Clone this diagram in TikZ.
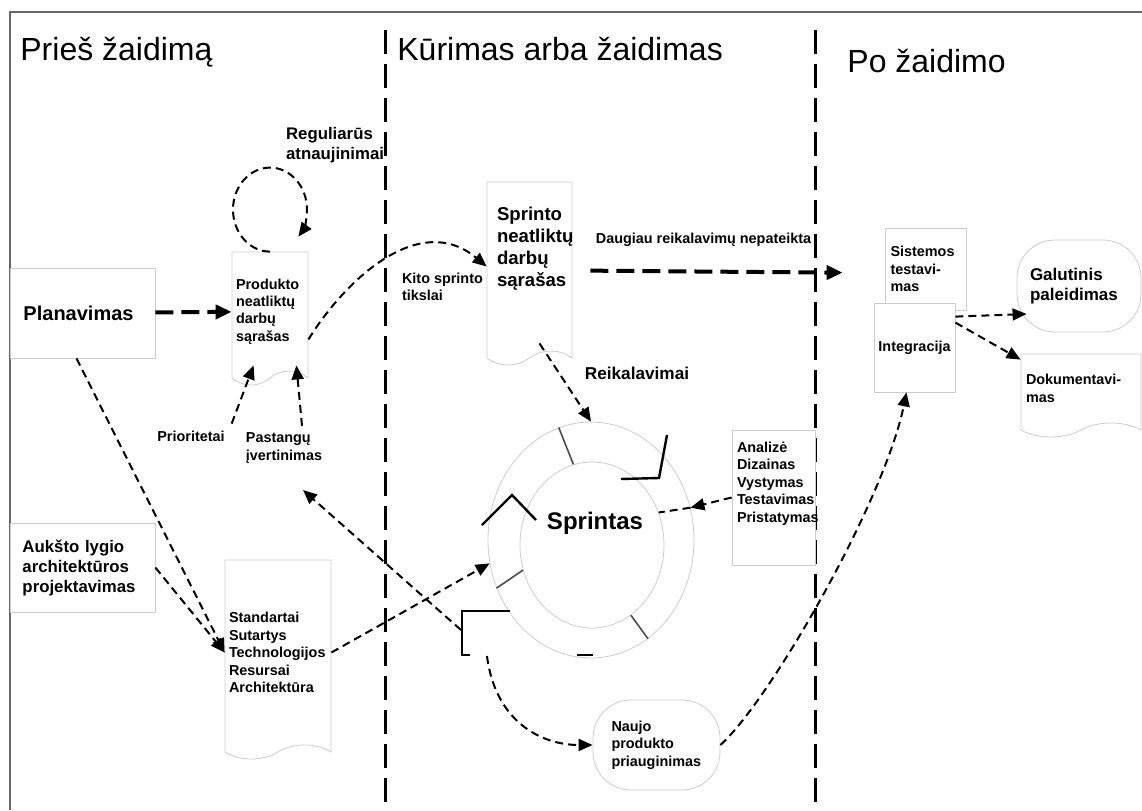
\documentclass[tikz,border=0pt]{standalone}
\usepackage{fontspec}
\setmainfont{Liberation Sans}
\usetikzlibrary{positioning,calc,arrows.meta,shapes.geometric,shapes.symbols}
\definecolor{boxgray}{gray}{0.8}
\definecolor{spokegray}{gray}{0.3}
\tikzset{
  box/.style={draw=boxgray,fill=white,rectangle,inner sep=2pt},
  doc/.style={box,tape,tape bend top=none,tape bend height=7pt},
  blob/.style={box,rounded corners=19pt},
  txt/.style={font=\fontsize{7.2}{8.7}\selectfont\bfseries,align=left},
  flow/.style={-{Triangle[length=7pt,width=6pt]},line width=1pt,dash pattern=on 4pt off 2.5pt},
  bigflow/.style={-{Triangle[length=8pt,width=7pt]},line width=2pt,dash pattern=on 9pt off 4pt},
  divider/.style={line width=1.5pt,dash pattern=on 12pt off 5pt},
  spoke/.style={draw=spokegray,line width=0.8pt},
  chev/.style={line width=1.2pt},
  title/.style={font=\fontsize{16}{19}\selectfont,inner sep=0pt,anchor=base west},
}
\begin{document}
\begin{tikzpicture}[x=0.5pt,y=-0.5pt]
\useasboundingbox (0,0) rectangle (1142,810);
\draw[gray!80!black,line width=0.6pt] (10,810) -- (10,12) -- (1142,12);

% phases
\draw[divider] (385,30) -- (385,810);
\draw[divider] (815,30) -- (815,810);
\node[title] (pre) at (20,60) {Prieš žaidimą};
\node[title] (game) at (397,60) {Kūrimas arba žaidimas};
\node[title] (post) at (847,72) {Po žaidimo};

% pregame
\node[box,minimum width=72.5pt,minimum height=45pt,text width=59pt,font=\fontsize{10}{12}\selectfont\bfseries] (plan) at (82.5,313) {Planavimas};
\node[box,txt,minimum width=72.5pt,minimum height=44.5pt,text width=60pt,font=\fontsize{8.4}{10}\selectfont\bfseries] (arch) at (82.5,567.5) {Aukšto lygio\\architektūros\\projektavimas};
\node[doc,txt,minimum width=38pt,minimum height=66.5pt,text width=34pt] (prod) at (270,311.5) {Produkto\\neatliktų\\darbų\\sąrašas};
\node[doc,txt,minimum width=52pt,minimum height=99.5pt,text width=49pt] (std) at (278,652.5) {Standartai\\Sutartys\\Technologijos\\Resursai\\Architektūra};
\node[txt,font=\fontsize{8.4}{10.3}\selectfont\bfseries,anchor=west] (upd) at (279,145) {Reguliarūs\\atnaujinimai};
\node[txt] (prio) at (191,436) {Prioritetai};
\node[txt] (effort) at (284,448) {Pastangų\\įvertinimas};

% game
\node[doc,minimum width=42.5pt,minimum height=91.5pt] (spr) at (529.5,266.5) {};
\node[txt,font=\fontsize{9.3}{11}\selectfont\bfseries,inner sep=0pt,below right=12.5pt and 5pt of spr.north west] (sprtxt) {Sprinto\\neatliktų\\darbų\\sąrašas};
\node[txt,anchor=west] (goals) at (395,287) {Kito sprinto\\tikslai};
\node[txt,font=\fontsize{8.6}{10}\selectfont\bfseries] (req) at (637,373) {Reikalavimai};
\node[box,minimum width=41.5pt,minimum height=67.5pt] (anal) at (773.5,497.5) {};
\node[txt,inner sep=0pt,below right=6pt and 2.5pt of anal.north west] (analtxt) {Analizė\\Dizainas\\Vystymas\\Testavimas\\Pristatymas};
\node[ellipse,draw=boxgray,minimum width=103pt,minimum height=118pt] (ring) at (591,540) {};
\node[ellipse,draw=boxgray,minimum width=72pt,minimum height=83pt] (core) at (592,545) {};
\node[font=\fontsize{12}{14}\selectfont\bfseries] (sprint) at (595,523) {Sprintas};
\node[blob,txt,minimum width=63.5pt,minimum height=45pt,text width=45pt] (naujo) at (656.5,745) {Naujo\\produkto\\priauginimas};

% sprint wheel
\draw[spoke] (core.103) -- (ring.106);
\draw[spoke] (core.200) -- (ring.207);
\draw[spoke] (core.299) -- (ring.300);
\draw[chev] (667,435) -- (659,478) -- (621,479);
\draw[chev] (482,525) -- (512,495) -- (536,520);
\draw[chev] (510,611) -- (462,611) -- (462,655) -- (470,655);
\draw[chev] (577,655) -- (593,655);
\coordinate (swing) at (461,630);
\coordinate (esttip) at (303,490);
\coordinate (drop) at (487,656);

% postgame
\node[box,txt,minimum width=40.5pt,minimum height=41pt,text width=35pt] (sys) at (925.5,269) {Sistemos\\testavi-\\mas};
\node[box,txt,minimum width=40.5pt,minimum height=44.5pt] (integ) at (914.5,347.5) {Integracija};
\node[blob,txt,minimum width=62pt,minimum height=46pt,text width=49pt,font=\fontsize{8.5}{10}\selectfont\bfseries] (gal) at (1079,286) {Galutinis\\paleidimas};
\node[doc,txt,minimum width=60pt,minimum height=41.5pt,text width=55pt] (dok) at (1081,388.5) {Dokumentavi-\\mas};

% flows
\draw[bigflow] (plan) -- (prod);
\draw[flow] (prod.north) arc[start angle=90,end angle=400,x radius=37,y radius=42];
\draw[flow] ($(prod.east)+(0,28)$) .. controls +(37,-60) and +(-67,-56) .. (spr.west);
\draw[bigflow,shorten <=9pt,shorten >=21pt] ([yshift=-2pt]spr.east) -- ([yshift=-2pt]sys.west) node[txt,above=8pt,pos=0.42] (more) {Daugiau reikalavimų nepateikta};
\draw[flow] ([xshift=5pt,yshift=4pt]spr.south) -- (ring.north);
\draw[flow] (prio.north east) -- ([xshift=11pt,yshift=3pt]prod.south west);
\draw[flow] ([xshift=9pt]effort.north) -- ([xshift=-6pt,yshift=3pt]prod.south east);
\draw[flow] ([xshift=-3pt]plan.south) -- (std.west);
\draw[flow] (arch.east) -- (std.west);
\draw[flow] (std.east) -- (ring.193);
\draw[flow] (swing) -- (esttip);
\draw[flow] (drop) .. controls +(8,64) and +(-53,0) .. (naujo.west);
\draw[flow] (naujo.east) .. controls +(50,-45) and +(-22,108) .. ([xshift=-4pt]integ.south);
\draw[flow] (anal.west) -- (ring.18);
\draw[flow,-] (ring.18) -- (core.26);
\draw[flow] ([yshift=-7pt]integ.north east) -- ([xshift=5pt,yshift=-14pt]gal.west);
\draw[flow] ([yshift=-10pt]integ.north east) -- ([yshift=-3pt]dok.north west);
\end{tikzpicture}
\end{document}
